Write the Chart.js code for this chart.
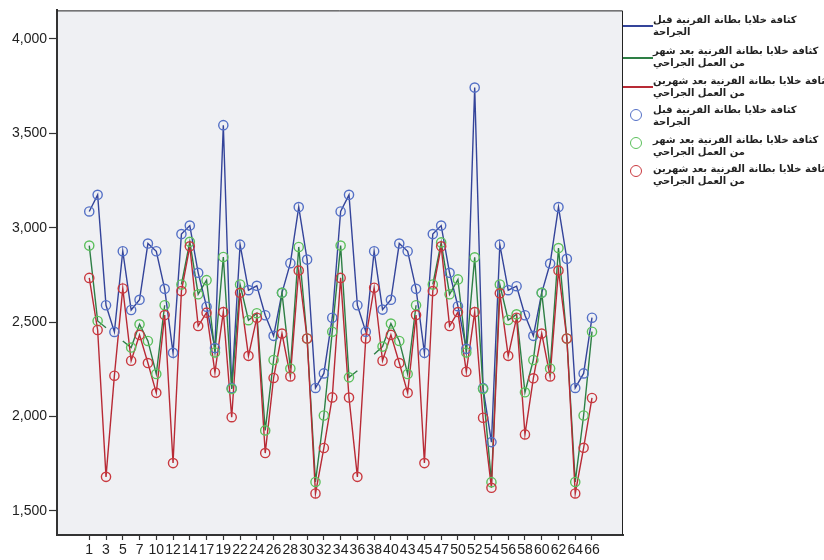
<!DOCTYPE html>
<html>
<head>
<meta charset="utf-8">
<script src="https://cdn.jsdelivr.net/npm/chart.js@4"></script>
<style>
  html, body { margin: 0; padding: 0; background: #ffffff; overflow: hidden; }
  #wrap { position: relative; width: 824px; height: 560px; overflow: hidden; }
  canvas { position: absolute; left: 0; top: 0; }
  .lg-text { position: absolute; left: 653px; width: 320px; direction: rtl; text-align: left;
             font-family: "DejaVu Sans", sans-serif; font-size: 10px; font-weight: bold; line-height: 12px;
             color: #222; white-space: nowrap; }
  .lg-line { position: absolute; left: 623px; width: 30px; height: 1.5px; }
  .lg-circ { position: absolute; width: 10px; height: 10px; border-radius: 50%; border: 1.5px solid; box-sizing: content-box; }
</style>
</head>
<body>
<div id="wrap">
  <canvas id="c" width="824" height="560"></canvas>
  <div id="legend"></div>
</div>
<script>
// Case numbers shown on the x axis (61 cases)
const categories = [1,2,3,4,5,6,7,8,10,11,12,13,14,15,17,18,19,20,22,23,24,25,26,27,28,29,30,31,32,33,34,35,36,37,38,39,40,41,43,44,45,46,47,48,50,51,52,53,54,55,56,57,58,59,60,61,62,63,64,65,66];

// Endothelial cell density before surgery
const before = [3086,3174,2589,2448,2875,2564,2618,2916,2875,2676,2337,2966,3011,2761,2581,2362,3543,2150,2910,2669,2692,2536,2427,2655,2812,3109,2831,2151,2228,2523,3086,3174,2589,2449,2875,2566,2618,2916,2875,2676,2337,2966,3011,2761,2584,2358,3742,2150,1864,2910,2669,2690,2536,2427,2655,2810,3109,2835,2151,2228,2523];

// One month after surgery (null = missing)
const oneMonth = [2905,2506,2470,null,2400,2365,2488,2400,2225,2589,null,2699,2925,2647,2722,2339,2845,2146,2699,2510,2547,1926,2299,2655,2254,2898,2413,1653,2005,2449,2905,2207,2242,null,2330,2370,2492,2400,2225,2589,null,2699,2922,2647,2726,2339,2843,2146,1652,2699,2511,2541,2128,2299,2655,2254,2892,2413,1653,2005,2449];
// cases of the one-month series that appear on the line but have no marker
const oneMonthNoMarker = [2,4,32,34];

// Two months after surgery
const twoMonths = [2734,2458,1680,2216,2678,2295,2432,2283,2125,2537,1753,2664,2901,2479,2550,2233,2553,1996,2655,2321,2523,1806,2204,2439,2212,2773,2413,1592,1833,2101,2734,2100,1680,2413,2682,2295,2432,2283,2125,2537,1753,2664,2901,2479,2553,2237,2553,1993,1622,2652,2321,2523,1905,2202,2439,2212,2773,2413,1592,1834,2098];

const yTicks = [1500,2000,2500,3000,3500,4000];

const seriesNames = [
  ["كثافة خلايا بطانة القرنية قبل", "الجراحة"],
  ["كثافة خلايا بطانة القرنية بعد شهر", "من العمل الجراحي"],
  ["كثافة خلايا بطانة القرنية بعد شهرين", "من العمل الجراحي"]
];

const lineColors = ['#34449a', '#2e7f45', '#b82a35'];
const markColors = ['#5470c6', '#5cc05c', '#c9393f'];

const toXY = arr => arr.map((v, i) => ({ x: i, y: v }));
const oneMonthMarks = oneMonth.map((v, i) => oneMonthNoMarker.includes(i) ? null : v);

const lineSet = (arr, k) => ({
  label: seriesNames[k].join(' '), data: toXY(arr), borderColor: lineColors[k],
  borderWidth: 1.4, pointRadius: 0, showLine: true, spanGaps: false, order: 6 - k, tension: 0
});
const markSet = (arr, k) => ({
  label: seriesNames[k].join(' '), data: toXY(arr), borderColor: markColors[k],
  backgroundColor: 'rgba(0,0,0,0)', borderWidth: 1.4, pointRadius: 4.6, pointStyle: 'circle',
  showLine: false, order: 3 - k
});

const frame = {
  id: 'frame',
  beforeDraw(chart) {
    const { ctx, chartArea: a } = chart;
    ctx.save();
    ctx.fillStyle = '#eff0f3';
    ctx.fillRect(a.left, a.top, a.right - a.left, a.bottom - a.top);
    ctx.restore();
  },
  afterDraw(chart) {
    const { ctx, chartArea: a } = chart;
    ctx.save();
    ctx.strokeStyle = '#222';
    ctx.lineWidth = 1;
    ctx.beginPath();
    ctx.moveTo(a.left, a.top + 0.5);
    ctx.lineTo(a.right - 0.5, a.top + 0.5);
    ctx.lineTo(a.right - 0.5, a.bottom);
    ctx.stroke();
    ctx.restore();
  }
};

new Chart(document.getElementById('c'), {
  type: 'scatter',
  data: {
    datasets: [
      lineSet(before, 0), lineSet(oneMonth, 1), lineSet(twoMonths, 2),
      markSet(before, 0), markSet(oneMonthMarks, 1), markSet(twoMonths, 2)
    ]
  },
  options: {
    responsive: false, animation: false, devicePixelRatio: 1,
    layout: { padding: { left: 0, top: 8, right: 201, bottom: 0 } },
    plugins: { legend: { display: false }, tooltip: { enabled: false } },
    scales: {
      x: {
        type: 'linear', min: -3.85, max: 63.7,
        afterBuildTicks: ax => { ax.ticks = categories.map((c, i) => ({ value: i })).filter(t => t.value % 2 === 0); },
        afterFit: s => { s.height = 25; },
        ticks: { autoSkip: false, maxRotation: 0, minRotation: 0, padding: 2, color: '#222',
                 font: { family: 'Liberation Sans', size: 14 },
                 callback: v => categories[v] },
        grid: { display: true, drawOnChartArea: false, drawTicks: true, tickLength: 5, tickColor: '#333', tickWidth: 1.2 },
        border: { display: true, color: '#333', width: 2 }
      },
      y: {
        type: 'linear', min: 1372, max: 4151,
        afterBuildTicks: ax => { ax.ticks = yTicks.map(v => ({ value: v })); },
        afterFit: s => { s.width = 57; },
        ticks: { padding: 2, color: '#222', font: { family: 'Liberation Sans', size: 14 },
                 callback: v => v.toLocaleString('en-US') },
        grid: { display: true, drawOnChartArea: false, drawTicks: true, tickLength: 8, tickColor: '#333', tickWidth: 1.2 },
        border: { display: true, color: '#333', width: 2 }
      }
    }
  },
  plugins: [frame]
});

// HTML legend (real text)
const lg = document.getElementById('legend');
const textTops = [14, 45, 75, 104, 134, 163];
const lineYs = [25, 57, 86];
const circYs = [115, 143, 171];
for (let k = 0; k < 6; k++) {
  const s = k % 3;
  const t = document.createElement('div');
  t.className = 'lg-text';
  t.style.top = textTops[k] + 'px';
  t.innerHTML = seriesNames[s][0] + '<br>' + seriesNames[s][1];
  lg.appendChild(t);
  if (k < 3) {
    const l = document.createElement('div');
    l.className = 'lg-line';
    l.style.top = lineYs[s] + 'px';
    l.style.background = lineColors[s];
    lg.appendChild(l);
  } else {
    const c = document.createElement('div');
    c.className = 'lg-circ';
    c.style.left = (636 - 6.5) + 'px';
    c.style.top = (circYs[s] - 6.5) + 'px';
    c.style.borderColor = markColors[s];
    lg.appendChild(c);
  }
}
</script>
</body>
</html>
